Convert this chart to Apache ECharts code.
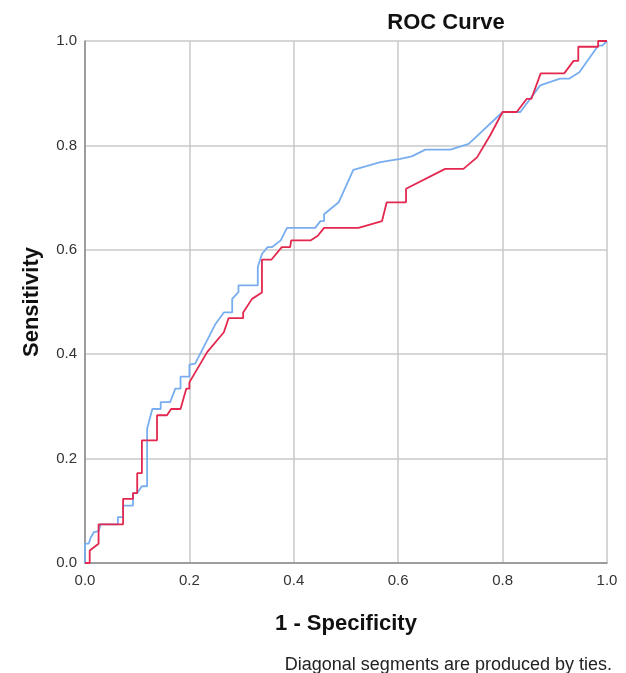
<!DOCTYPE html>
<html>
<head>
<meta charset="utf-8">
<script src="https://cdn.jsdelivr.net/npm/echarts@6/dist/echarts.min.js"></script>
<style>
html,body{margin:0;padding:0;background:#fff;}
#chart{width:626px;height:673px;}
</style>
</head>
<body>
<div id="chart"></div>
<script>
// 1 - Specificity / Sensitivity points
const blueX = [0,0,0.007,0.011,0.017,0.026,0.03,0.063,0.063,0.073,0.073,0.092,0.092,0.1,0.109,0.119,0.119,0.129,0.145,0.145,0.163,0.173,0.183,0.183,0.2,0.2,0.211,0.25,0.266,0.282,0.282,0.294,0.294,0.331,0.331,0.339,0.35,0.358,0.375,0.387,0.441,0.451,0.458,0.458,0.486,0.514,0.566,0.604,0.626,0.652,0.7,0.735,0.8,0.834,0.872,0.91,0.928,0.947,0.983,0.991,1];
const blueY = [0,0.037,0.037,0.049,0.059,0.061,0.074,0.074,0.088,0.088,0.11,0.11,0.134,0.134,0.147,0.147,0.257,0.295,0.295,0.308,0.308,0.334,0.334,0.357,0.357,0.38,0.382,0.458,0.48,0.48,0.506,0.519,0.532,0.532,0.567,0.592,0.605,0.605,0.618,0.642,0.642,0.655,0.655,0.668,0.691,0.753,0.768,0.774,0.779,0.792,0.792,0.803,0.864,0.864,0.915,0.928,0.928,0.94,0.991,0.991,1];
const redX = [0,0.009,0.009,0.026,0.026,0.073,0.073,0.092,0.092,0.1,0.1,0.109,0.109,0.138,0.138,0.157,0.165,0.183,0.194,0.2,0.2,0.234,0.266,0.275,0.303,0.303,0.32,0.339,0.339,0.357,0.377,0.393,0.395,0.432,0.446,0.458,0.524,0.569,0.578,0.615,0.615,0.69,0.725,0.751,0.776,0.8,0.827,0.846,0.855,0.873,0.918,0.936,0.945,0.945,0.983,0.983,1];
const redY = [0,0,0.024,0.037,0.074,0.074,0.123,0.123,0.134,0.134,0.172,0.172,0.235,0.235,0.283,0.283,0.295,0.295,0.334,0.334,0.346,0.404,0.442,0.469,0.469,0.48,0.506,0.518,0.581,0.581,0.605,0.605,0.618,0.618,0.627,0.642,0.642,0.655,0.691,0.691,0.717,0.755,0.755,0.777,0.819,0.864,0.864,0.889,0.889,0.938,0.938,0.962,0.962,0.989,0.989,1,1];
const tickValues = [0,0.2,0.4,0.6,0.8,1.0];
const titleText = 'ROC Curve';
const xName = '1 - Specificity';
const yName = 'Sensitivity';
const footnote = 'Diagonal segments are produced by ties.';

const pairs = (xs, ys) => xs.map((x, i) => [x, ys[i]]);
const chart = echarts.init(document.getElementById('chart'), null, {renderer: 'canvas'});
const font = 'Liberation Sans, Arial, sans-serif';
chart.setOption({
  animation: false,
  backgroundColor: '#fff',
  grid: {left: 85, right: 19, top: 41, bottom: 110, containLabel: false},
  xAxis: {
    type: 'value', min: 0, max: 1, interval: 0.2,
    name: xName, nameLocation: 'middle', nameGap: 50,
    nameTextStyle: {fontFamily: font, fontSize: 22, fontWeight: 'bold', color: '#111'},
    axisLine: {show: true, lineStyle: {color: '#8a8a8a', width: 1.5}},
    axisTick: {show: false},
    axisLabel: {margin: 10, fontFamily: font, fontSize: 15, color: '#333',
      formatter: v => v.toFixed(1)},
    splitLine: {show: true, lineStyle: {color: '#c8c8c8', width: 1.5}}
  },
  yAxis: {
    type: 'value', min: 0, max: 1, interval: 0.2,
    name: yName, nameLocation: 'middle', nameGap: 42,
    nameTextStyle: {fontFamily: font, fontSize: 22, fontWeight: 'bold', color: '#111'},
    axisLine: {show: true, lineStyle: {color: '#8a8a8a', width: 1.5}},
    axisTick: {show: false},
    axisLabel: {margin: 8, fontFamily: font, fontSize: 15, color: '#333',
      formatter: v => v.toFixed(1)},
    splitLine: {show: true, lineStyle: {color: '#c8c8c8', width: 1.5}}
  },
  graphic: [
    {type: 'text', x: 446, y: 23, style: {text: titleText, fontFamily: font, fontSize: 22, fontWeight: 'bold', fill: '#111', textAlign: 'center', textVerticalAlign: 'middle'}},
    {type: 'text', x: 612, y: 665, style: {text: footnote, fontFamily: font, fontSize: 18, fill: '#222', textAlign: 'right', textVerticalAlign: 'middle'}}
  ],
  series: [
    {type: 'line', data: pairs(blueX, blueY), showSymbol: false, symbol: 'none',
      lineStyle: {color: '#78aef0', width: 1.8}, z: 3},
    {type: 'line', data: pairs(redX, redY), showSymbol: false, symbol: 'none',
      lineStyle: {color: '#e3284f', width: 1.8}, z: 4}
  ]
});
</script>
</body>
</html>
